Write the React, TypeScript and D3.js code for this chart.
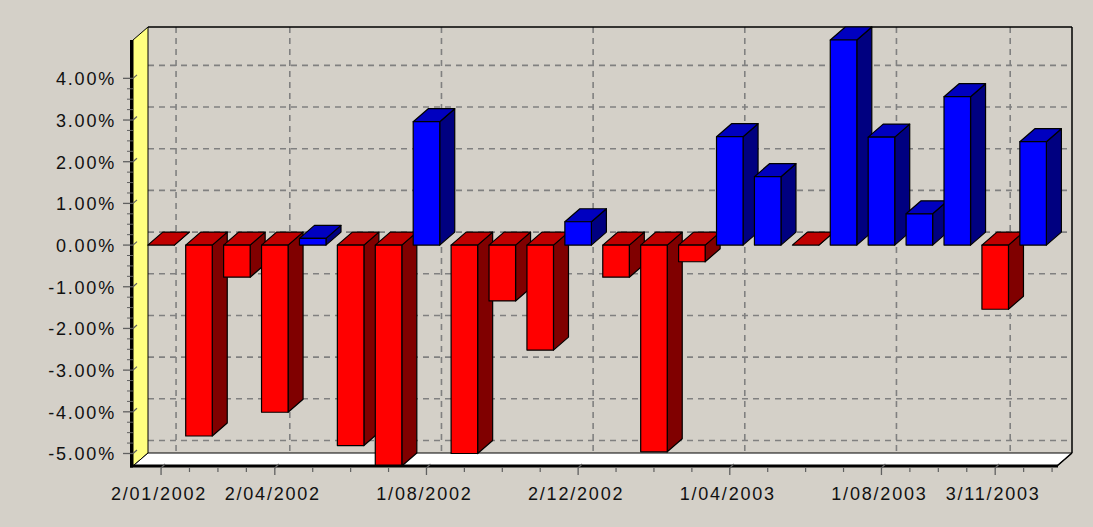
import React from "react";
import * as d3 from "d3";

const categories = [
  "2/01/2002", "1/02/2002", "1/03/2002", "2/04/2002", "1/05/2002", "3/06/2002",
  "1/07/2002", "1/08/2002", "2/09/2002", "1/10/2002", "1/11/2002", "2/12/2002",
  "2/01/2003", "3/02/2003", "3/03/2003", "1/04/2003", "1/05/2003", "2/06/2003",
  "1/07/2003", "1/08/2003", "2/09/2003", "1/10/2003", "3/11/2003", "1/12/2003",
];
const values = [
  0, -4.58, -0.77, -4.01, 0.16, -4.81, -5.3, 2.96, -5.0, -1.34, -2.52, 0.56,
  -0.77, -4.96, -0.4, 2.6, 1.64, 0, 4.92, 2.59, 0.75, 3.56, -1.54, 2.48,
];
const xTickLabels = ["2/01/2002", "2/04/2002", "1/08/2002", "2/12/2002", "1/04/2003", "1/08/2003", "3/11/2003"];
const yTicks = [4, 3, 2, 1, 0, -1, -2, -3, -4, -5];

const W = 1093;
const H = 527;
const X0 = 133; // front plane left
const X1 = 1057; // front plane right
const YT = 40; // front top
const YB = 466; // front bottom
const DX = 15;
const DY = 13;
const BG = "#d4d0c8";
const FONT = "'Liberation Sans', Arial, sans-serif";

export default function App() {
  const x = d3.scaleLinear().domain([-0.74, 23.63]).range([X0, X1]);
  const y = d3
    .scaleLinear()
    .domain([d3.min(values) as number, d3.max(values) as number])
    .range([YB, YT]);
  const step = x(1) - x(0);
  const bw = step * 0.7;
  const y0 = y(0);

  const majorIdx = xTickLabels.map((l) => categories.indexOf(l));
  const majorX = majorIdx.map((i) => x(i));
  const minorX: number[] = [];
  for (let k = 0; k < majorX.length - 1; k++) {
    const a = majorX[k], b = majorX[k + 1];
    for (let j = 1; j < 4; j++) minorX.push(a + ((b - a) * j) / 4);
  }
  {
    const last = majorX[majorX.length - 1];
    const sp = (last - majorX[majorX.length - 2]) / 4;
    for (let p = last + sp; p <= X1 + 0.5; p += sp) minorX.push(p);
  }
  const yMinor: number[] = [];
  for (let k = 0; k < yTicks.length - 1; k++) {
    for (let j = 1; j < 4; j++) yMinor.push(yTicks[k] - j * 0.25);
  }

  const dash = "6 5";
  const gridColor = "#808080";

  return (
    <div style={{ position: "absolute", left: 0, top: 0 }}>
      <svg width={W} height={H} style={{ display: "block" }}>
        <rect x={0} y={0} width={W} height={H} fill={BG} />
        {/* back wall grid */}
        {yTicks.map((t) => (
          <line
            key={"hg" + t}
            x1={X0 + DX}
            x2={X1 + DX}
            y1={y(t) - DY}
            y2={y(t) - DY}
            stroke={gridColor}
            strokeWidth={1.6}
            strokeDasharray={dash}
          />
        ))}
        {majorX.map((mx, i) => (
          <line
            key={"vg" + i}
            x1={mx + DX}
            x2={mx + DX}
            y1={YT - DY}
            y2={YB - DY}
            stroke={gridColor}
            strokeWidth={1.6}
            strokeDasharray={dash}
          />
        ))}
        {/* back wall border */}
        <line x1={X0 + DX} x2={X1 + DX} y1={YT - DY} y2={YT - DY} stroke="#000" strokeWidth={1.5} />
        <line x1={X1 + DX} x2={X1 + DX} y1={YT - DY} y2={YB - DY} stroke="#000" strokeWidth={1.5} />
        {/* left wall */}
        <polygon
          points={`${X0},${YT} ${X0 + DX},${YT - DY} ${X0 + DX},${YB - DY} ${X0},${YB}`}
          fill="#ffff80"
          stroke="#000"
          strokeWidth={1}
        />
        {/* floor */}
        <polygon
          points={`${X0},${YB} ${X0 + DX},${YB - DY} ${X1 + DX},${YB - DY} ${X1},${YB}`}
          fill="#ffffff"
          stroke="#000"
          strokeWidth={1}
        />
        <line x1={X1} y1={YB} x2={X1 + DX} y2={YB - DY} stroke="#000" strokeWidth={1.6} />
        <line x1={X0 - 1.5} x2={X0 - 1.5} y1={YT} y2={YB + 1.5} stroke="#000" strokeWidth={3} />
        {/* bars */}
        {values.map((v, i) => {
          const c = x(i);
          const xl = c - bw / 2;
          const xr = c + bw / 2;
          const yv = y(v);
          const top = Math.min(yv, y0);
          const bot = Math.max(yv, y0);
          const pos = v > 0;
          const front = pos ? "#0000ff" : "#ff0000";
          const topC = pos ? "#0000c0" : "#c00000";
          const sideC = pos ? "#000080" : "#800000";
          return (
            <g key={"b" + i} stroke="#000" strokeWidth={1.2} strokeLinejoin="round">
              <polygon
                points={`${xr},${top} ${xr + DX},${top - DY} ${xr + DX},${bot - DY} ${xr},${bot}`}
                fill={sideC}
              />
              <polygon
                points={`${xl},${top} ${xl + DX},${top - DY} ${xr + DX},${top - DY} ${xr},${top}`}
                fill={topC}
              />
              <rect x={xl} y={top} width={bw} height={bot - top} fill={front} />
            </g>
          );
        })}
        {/* front axis line */}
        <line x1={X0 - 3} x2={X1 + 1} y1={YB} y2={YB} stroke="#000" strokeWidth={3} />
        {/* y axis ticks & labels */}
        {yMinor.map((t, i) => (
          <line key={"ym" + i} x1={X0 - 6} x2={X0} y1={y(t)} y2={y(t)} stroke="#606060" strokeWidth={1} />
        ))}
        {yTicks.map((t) => (
          <g key={"yt" + t}>
            <line x1={X0 - 10} x2={X0} y1={y(t)} y2={y(t)} stroke="#606060" strokeWidth={1.3} />
            <line x1={X0} x2={X0 + 4} y1={y(t)} y2={y(t) - 3.5} stroke="#606060" strokeWidth={1.2} />
            <text
              x={116}
              y={y(t) + 7}
              textAnchor="end"
              fontFamily={FONT}
              fontSize={18}
              letterSpacing={1.8}
              fill="#111"
            >
              {t.toFixed(2) + "%"}
            </text>
          </g>
        ))}
        {/* x axis ticks & labels */}
        {minorX.map((mx, i) => (
          <line key={"xm" + i} x1={mx} x2={mx} y1={YB + 2} y2={YB + 6} stroke="#606060" strokeWidth={1.2} />
        ))}
        {majorX.map((mx, i) => (
          <g key={"xt" + i}>
            <line x1={mx} x2={mx} y1={YB + 2} y2={YB + 9} stroke="#606060" strokeWidth={1.3} />
            <line x1={mx} x2={mx + 4} y1={YB + 2} y2={YB - 2} stroke="#606060" strokeWidth={1.2} />
            <text
              x={mx - 2}
              y={500}
              textAnchor="middle"
              fontFamily={FONT}
              fontSize={18}
              letterSpacing={1.8}
              fill="#111"
            >
              {xTickLabels[i]}
            </text>
          </g>
        ))}
      </svg>
    </div>
  );
}
